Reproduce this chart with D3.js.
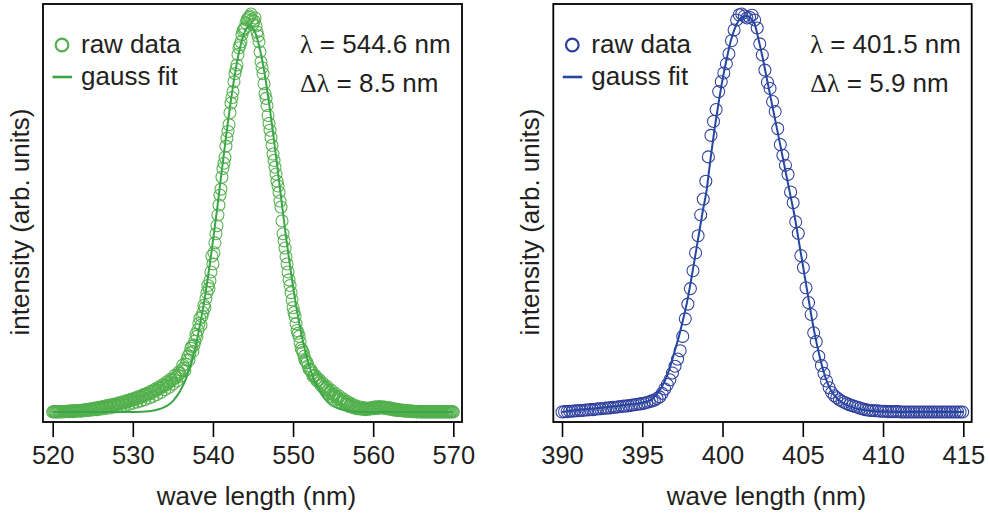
<!DOCTYPE html>
<html><head><meta charset="utf-8">
<script src="https://cdn.jsdelivr.net/npm/d3@7"></script>
<style>
html,body{margin:0;padding:0;background:#fff;}
svg{display:block;font-family:"Liberation Sans",Arial,Helvetica,sans-serif;}
</style></head><body>
<svg id="chart" width="990" height="514"></svg>
<script>
// ---------- DATA ----------
// green spectrum, scan A
const greenWavelength = [
520,520.25,520.5,520.75, 521,521.25,521.5,521.75, 522,522.25,522.5,522.75, 523,523.25,523.5,523.75,
524,524.25,524.5,524.75, 525,525.25,525.5,525.75, 526,526.25,526.5,526.75, 527,527.25,527.5,527.75,
528,528.25,528.5,528.75, 529,529.25,529.5,529.75, 530,530.25,530.5,530.75, 531,531.25,531.5,531.75,
532,532.25,532.5,532.75, 533,533.25,533.5,533.75, 534,534.25,534.5,534.75, 535,535.25,535.5,535.75,
536,536.25,536.5,536.75, 537,537.25,537.5,537.75, 538,538.25,538.5,538.75, 539,539.25,539.5,539.75,
540,540.25,540.5,540.75, 541,541.25,541.5,541.75, 542,542.25,542.5,542.75, 543,543.25,543.5,543.75,
544,544.25,544.5,544.75, 545,545.25,545.5,545.75, 546,546.25,546.5,546.75, 547,547.25,547.5,547.75,
548,548.25,548.5,548.75, 549,549.25,549.5,549.75, 550,550.25,550.5,550.75, 551,551.25,551.5,551.75,
552,552.25,552.5,552.75, 553,553.25,553.5,553.75, 554,554.25,554.5,554.75, 555,555.25,555.5,555.75,
556,556.25,556.5,556.75, 557,557.25,557.5,557.75, 558,558.25,558.5,558.75, 559,559.25,559.5,559.75,
560,560.25,560.5,560.75, 561,561.25,561.5,561.75, 562,562.25,562.5,562.75, 563,563.25,563.5,563.75,
564,564.25,564.5,564.75, 565,565.25,565.5,565.75, 566,566.25,566.5,566.75, 567,567.25,567.5,567.75,
568,568.25,568.5,568.75, 569,569.25,569.5,569.75, 570
];
const greenIntensity = [
0.000,0.001,0.000,0.001, 0.000,0.001,0.001,0.002, 0.001,0.003,0.001,0.003, 0.002,0.004,0.002,0.005,
0.003,0.006,0.004,0.008, 0.005,0.010,0.006,0.012, 0.007,0.014,0.009,0.016, 0.010,0.018,0.012,0.020,
0.013,0.023,0.015,0.026, 0.017,0.029,0.019,0.032, 0.022,0.035,0.025,0.039, 0.028,0.043,0.031,0.047,
0.035,0.052,0.039,0.057, 0.044,0.063,0.049,0.069, 0.056,0.076,0.062,0.083, 0.070,0.092,0.078,0.101,
0.090,0.118,0.104,0.131, 0.130,0.160,0.152,0.178, 0.190,0.222,0.218,0.250, 0.262,0.300,0.310,0.352,
0.372,0.425,0.468,0.520, 0.560,0.612,0.640,0.688, 0.722,0.776,0.805,0.850, 0.872,0.915,0.930,0.958,
0.965,0.985,0.992,1.000, 0.975,0.990,0.955,0.930, 0.880,0.850,0.800,0.770, 0.725,0.690,0.648,0.615,
0.580,0.552,0.515,0.448, 0.412,0.372,0.332,0.300, 0.262,0.240,0.205,0.190, 0.160,0.150,0.130,0.124,
0.108,0.105,0.090,0.092, 0.078,0.082,0.066,0.072, 0.056,0.064,0.046,0.055, 0.038,0.047,0.032,0.040,
0.025,0.033,0.020,0.027, 0.014,0.021,0.011,0.016, 0.008,0.013,0.007,0.011, 0.006,0.010,0.007,0.011,
0.008,0.013,0.009,0.014, 0.010,0.013,0.009,0.012, 0.007,0.010,0.005,0.008, 0.004,0.006,0.003,0.005,
0.002,0.004,0.002,0.003, 0.001,0.002,0.000,0.002, 0.000,0.001,0.000,0.001, 0.000,0.001,0.000,0.001,
0.000,0.001,0.000,0.001, 0.000,0.001,0.000,0.001, 0.000
];
// green spectrum, scan B
const greenWavelengthB = [
520.125,520.375,520.625,520.875, 521.125,521.375,521.625,521.875, 522.125,522.375,522.625,522.875, 523.125,523.375,523.625,523.875,
524.125,524.375,524.625,524.875, 525.125,525.375,525.625,525.875, 526.125,526.375,526.625,526.875, 527.125,527.375,527.625,527.875,
528.125,528.375,528.625,528.875, 529.125,529.375,529.625,529.875, 530.125,530.375,530.625,530.875, 531.125,531.375,531.625,531.875,
532.125,532.375,532.625,532.875, 533.125,533.375,533.625,533.875, 534.125,534.375,534.625,534.875, 535.125,535.375,535.625,535.875,
536.125,536.375,536.625,536.875, 537.125,537.375,537.625,537.875, 538.125,538.375,538.625,538.875, 539.125,539.375,539.625,539.875,
540.125,540.375,540.625,540.875, 541.125,541.375,541.625,541.875, 542.125,542.375,542.625,542.875, 543.125,543.375,543.625,543.875,
544.125,544.375,544.625,544.875, 545.125,545.375,545.625,545.875, 546.125,546.375,546.625,546.875, 547.125,547.375,547.625,547.875,
548.125,548.375,548.625,548.875, 549.125,549.375,549.625,549.875, 550.125,550.375,550.625,550.875, 551.125,551.375,551.625,551.875,
552.125,552.375,552.625,552.875, 553.125,553.375,553.625,553.875, 554.125,554.375,554.625,554.875, 555.125,555.375,555.625,555.875,
556.125,556.375,556.625,556.875, 557.125,557.375,557.625,557.875, 558.125,558.375,558.625,558.875, 559.125,559.375,559.625,559.875,
560.125,560.375,560.625,560.875, 561.125,561.375,561.625,561.875, 562.125,562.375,562.625,562.875, 563.125,563.375,563.625,563.875,
564.125,564.375,564.625,564.875, 565.125,565.375,565.625,565.875, 566.125,566.375,566.625,566.875, 567.125,567.375,567.625,567.875,
568.125,568.375,568.625,568.875, 569.125,569.375,569.625,569.875
];
const greenIntensityB = [
0.001,0.000,0.001,0.001, 0.001,0.001,0.002,0.002, 0.002,0.002,0.003,0.003, 0.003,0.004,0.004,0.005,
0.005,0.006,0.007,0.007, 0.008,0.009,0.010,0.011, 0.011,0.013,0.013,0.015, 0.015,0.016,0.018,0.019,
0.019,0.021,0.022,0.024, 0.024,0.027,0.028,0.030, 0.031,0.033,0.035,0.037, 0.038,0.041,0.043,0.045,
0.046,0.050,0.052,0.055, 0.056,0.060,0.063,0.066, 0.068,0.072,0.076,0.080, 0.083,0.087,0.092,0.097,
0.106,0.110,0.120,0.140, 0.148,0.165,0.168,0.195, 0.206,0.235,0.240,0.268, 0.285,0.318,0.330,0.392,
0.400,0.448,0.495,0.545, 0.590,0.625,0.668,0.705, 0.752,0.790,0.830,0.862, 0.898,0.922,0.948,0.962,
0.978,0.988,0.995,0.985, 0.982,0.970,0.945,0.905, 0.865,0.825,0.788,0.745, 0.708,0.670,0.632,0.598,
0.568,0.530,0.480,0.430, 0.390,0.352,0.318,0.282, 0.250,0.222,0.198,0.175, 0.155,0.140,0.127,0.116,
0.106,0.098,0.091,0.085, 0.080,0.074,0.069,0.063, 0.060,0.055,0.050,0.045, 0.043,0.039,0.036,0.031,
0.029,0.026,0.023,0.019, 0.018,0.015,0.013,0.011, 0.010,0.009,0.009,0.008, 0.008,0.008,0.009,0.009,
0.010,0.011,0.011,0.012, 0.011,0.011,0.010,0.009, 0.008,0.007,0.006,0.005, 0.005,0.004,0.004,0.003,
0.003,0.002,0.002,0.002, 0.001,0.001,0.001,0.001, 0.000,0.001,0.000,0.001, 0.000,0.001,0.000,0.001,
0.000,0.001,0.000,0.001, 0.000,0.001,0.000,0.001
];
const greenFitWavelength = [520,530.6,531.6,532.6,533.6,534.6,
535.1,535.6,536.1,536.6,537.1,537.6,538.1,538.6,539.1,539.6,540.1,540.6,541.1,541.6,542.1,542.6,543.1,543.6,544.1,
544.6,
545.1,545.6,546.1,546.6,547.1,547.6,548.1,548.6,549.1,549.6,550.1,550.6,551.1,551.6,552.1,552.6,553.1,553.6,554.1,554.6,
555.6,556.6,557.6,558.6,570];
const greenFitIntensity = [0.000,0.000,0.001,0.004,0.009,0.020,
0.030,0.043,0.060,0.082,0.111,0.146,0.190,0.242,0.302,0.370,0.444,0.523,0.605,0.686,0.762,0.831,0.889,0.933,0.961,
0.970,
0.961,0.933,0.889,0.831,0.762,0.686,0.605,0.523,0.444,0.370,0.302,0.242,0.190,0.146,0.111,0.082,0.060,0.043,0.030,0.020,
0.009,0.004,0.001,0.000,0.000];

const blueWavelength = [
390.00,390.16,390.32,390.48,390.64,390.80,390.96,391.12,391.28,391.44,391.60,391.76,391.92,392.08,392.24,392.40,392.56,392.72,392.88,393.04,393.20,393.36,393.52,393.68,393.84,
394.00,394.16,394.32,394.48,394.64,394.80,394.96,395.12,395.28,395.44,395.60,395.76,395.92,396.08,396.24,396.40,396.56,396.72,396.88,397.04,397.20,397.36,397.52,397.68,397.84,
398.00,398.16,398.32,398.48,398.64,398.80,398.96,399.12,399.28,399.44,399.60,399.76,399.92,400.08,400.24,400.40,400.56,400.72,400.88,401.04,401.20,401.36,401.52,401.68,401.84,
402.00,402.16,402.32,402.48,402.64,402.80,402.96,403.12,403.28,403.44,403.60,403.76,403.92,404.08,404.24,404.40,404.56,404.72,404.88,405.04,405.20,405.36,405.52,405.68,405.84,
406.00,406.16,406.32,406.48,406.64,406.80,406.96,407.12,407.28,407.44,407.60,407.76,407.92,408.08,408.24,408.40,408.56,408.72,408.88,409.04,409.20,409.36,409.52,409.68,409.84,
410.00,410.16,410.32,410.48,410.64,410.80,410.96,411.12,411.28,411.44,411.60,411.76,411.92,412.08,412.24,412.40,412.56,412.72,412.88,413.04,413.20,413.36,413.52,413.68,413.84,
414.00,414.16,414.32,414.48,414.64,414.80,414.96
];
const blueIntensity = [
0.000,0.001,0.001,0.002,0.002,0.003,0.003,0.004,0.004,0.005,0.005,0.006,0.006,0.007,0.008,0.008,0.009,0.010,0.010,0.011,0.012,0.012,0.013,0.014,0.015,
0.015,0.016,0.017,0.018,0.019,0.020,0.021,0.022,0.024,0.026,0.028,0.030,0.034,0.038,0.047,0.058,0.069,0.081,0.098,0.115,0.133,0.154,0.190,0.234,0.271,
0.310,0.355,0.400,0.443,0.495,0.535,0.580,0.641,0.695,0.730,0.760,0.805,0.830,0.852,0.875,0.900,0.933,0.960,0.985,0.998,1.000,0.995,0.990,0.992,0.997,
0.985,0.965,0.925,0.897,0.859,0.828,0.813,0.780,0.755,0.712,0.672,0.645,0.620,0.597,0.553,0.526,0.478,0.449,0.393,0.363,0.312,0.275,0.245,0.199,0.177,
0.140,0.117,0.097,0.078,0.061,0.049,0.041,0.036,0.031,0.027,0.024,0.021,0.018,0.016,0.014,0.012,0.010,0.008,0.006,0.005,0.004,0.004,0.003,0.003,0.002,
0.002,0.002,0.001,0.001,0.001,0.001,0.001,0.000,0.000,0.000,0.000,0.000,0.000,0.000,0.000,0.000,0.000,0.000,0.000,0.000,0.000,0.000,0.000,0.000,0.000,
0.000,0.000,0.000,0.000,0.000,0.000,0.000
];
const blueFitWavelength = [390,391,392,393,394,395,395.5,395.75,396,396.25,396.5,396.75,397,397.25,397.5,397.75,
398,398.25,398.5,398.75,399,399.25,399.5,399.75,400,400.25,400.5,400.75,401,401.25,401.5,401.75,
402,402.25,402.5,402.75,403,403.25,403.5,403.75,404,404.25,404.5,404.75,405,405.25,405.5,405.75,
406,406.25,406.5,406.75,407,407.5,408,408.5,409,410,411,413,415];
const blueFitIntensity = [0.000,0.005,0.009,0.013,0.018,0.023,0.030,0.038,0.050,0.065,0.087,0.115,0.150,0.185,0.225,0.268,
0.322,0.380,0.440,0.500,0.555,0.635,0.710,0.775,0.835,0.885,0.930,0.962,0.983,0.993,0.995,0.990,
0.975,0.935,0.890,0.840,0.790,0.740,0.690,0.640,0.590,0.540,0.490,0.430,0.370,0.310,0.250,0.195,
0.148,0.108,0.077,0.055,0.040,0.023,0.013,0.007,0.004,0.001,0.000,0.000,0.000];

const greenTicks = [520, 530, 540, 550, 560, 570];
const blueTicks = [390, 395, 400, 405, 410, 415];
const legendLabels = ["raw data", "gauss fit"];
const greenPeak = "544.6", greenWidth = "8.5";
const bluePeak = "401.5", blueWidth = "5.9";
const xTitle = "wave length (nm)";
const yTitle = "intensity (arb. units)";

// ---------- LAYOUT ----------
const svg = d3.select("#chart");
const TEXT = "#231f20";
const frameTop = 4, frameBottom = 422;
const y = d3.scaleLinear().domain([0, 1]).range([412, 14]);

const panels = [
  {raw: d3.zip(greenWavelength, greenIntensity).concat(d3.zip(greenWavelengthB, greenIntensityB)),
   fwl: greenFitWavelength, fit: greenFitIntensity,
   ticks: greenTicks, circle: "#52b04c", line: "#3aa648", peak: greenPeak, width: greenWidth,
   left: 43, right: 462, t0: 52.7, t1: 453.3},
  {raw: d3.zip(blueWavelength, blueIntensity),
   fwl: blueFitWavelength, fit: blueFitIntensity,
   ticks: blueTicks, circle: "#2e3e9c", line: "#2547a2", peak: bluePeak, width: blueWidth,
   left: 553.3, right: 971.7, t0: 562, t1: 963.3}
];

panels.forEach(p => {
  const x = d3.scaleLinear().domain([p.ticks[0], p.ticks[p.ticks.length - 1]]).range([p.t0, p.t1]);
  const g = svg.append("g");

  // data circles
  g.append("g").selectAll("circle")
    .data(p.raw).join("circle")
    .attr("cx", d => x(d[0])).attr("cy", d => y(d[1])).attr("r", 6)
    .attr("fill", "none").attr("stroke", p.circle).attr("stroke-width", 1.05);

  // fit line
  const line = d3.line().x(d => x(d[0])).y(d => y(d[1])).curve(d3.curveMonotoneX);
  g.append("path").datum(d3.zip(p.fwl, p.fit))
    .attr("d", line).attr("fill", "none").attr("stroke", p.line).attr("stroke-width", 2);

  // frame
  g.append("rect").attr("x", p.left).attr("y", frameTop)
    .attr("width", p.right - p.left).attr("height", frameBottom - frameTop)
    .attr("fill", "none").attr("stroke", "#000").attr("stroke-width", 1.8);

  // x axis
  const ax = g.append("g").attr("transform", `translate(0,${frameBottom})`)
    .call(d3.axisBottom(x).tickValues(p.ticks).tickFormat(d3.format("d")).tickSize(15).tickPadding(9).tickSizeOuter(0));
  ax.select(".domain").remove();
  ax.selectAll(".tick line").attr("stroke", "#000").attr("stroke-width", 1.6);
  ax.selectAll(".tick text").attr("fill", TEXT).attr("font-size", 25.5)
    .attr("font-family", "'Liberation Sans', Arial, sans-serif");

  // axis titles
  g.append("text").attr("x", (p.left + p.right) / 2 + 4).attr("y", 505)
    .attr("text-anchor", "middle").attr("font-size", 26).attr("fill", TEXT).text(xTitle);
  g.append("text").attr("transform", `translate(${p.left - 14},222) rotate(-90)`)
    .attr("text-anchor", "middle").attr("font-size", 26).attr("fill", TEXT).text(yTitle);

  // legend
  const lx = p.left + 19;
  g.append("circle").attr("cx", lx).attr("cy", 45).attr("r", 6.3)
    .attr("fill", "none").attr("stroke", p.circle).attr("stroke-width", 2.2);
  g.append("text").attr("x", lx + 19).attr("y", 53).attr("font-size", 26).attr("fill", TEXT).text(legendLabels[0]);
  g.append("line").attr("x1", lx - 9.5).attr("x2", lx + 10).attr("y1", 77).attr("y2", 77)
    .attr("stroke", p.line).attr("stroke-width", 2.6);
  g.append("text").attr("x", lx + 19).attr("y", 85).attr("font-size", 26).attr("fill", TEXT).text(legendLabels[1]);

  // annotations
  const ann = p.left + 257;
  const t1 = g.append("text").attr("x", ann).attr("y", 53).attr("font-size", 26).attr("fill", TEXT);
  t1.append("tspan").attr("font-family", "'Liberation Serif', 'Times New Roman', serif").text("λ");
  t1.append("tspan").text(` = ${p.peak} nm`);
  const t2 = g.append("text").attr("x", ann).attr("y", 92).attr("font-size", 26).attr("fill", TEXT);
  t2.append("tspan").attr("font-family", "'Liberation Serif', 'Times New Roman', serif").text("Δλ");
  t2.append("tspan").text(` = ${p.width} nm`);
});
</script>
</body></html>
